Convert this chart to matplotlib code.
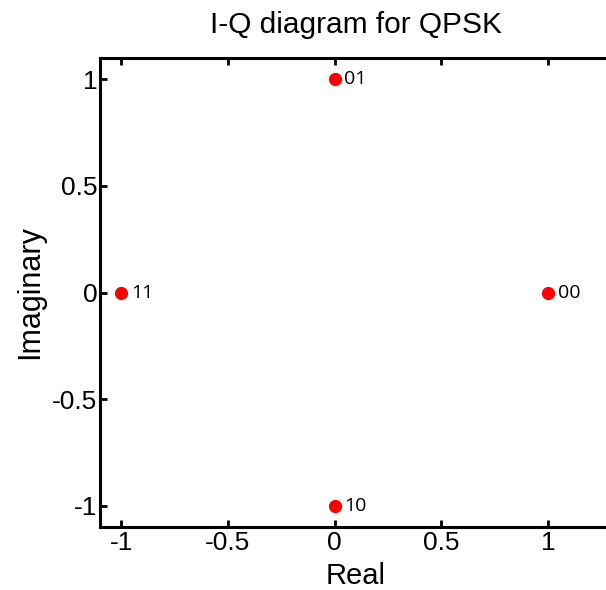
import matplotlib
matplotlib.use("Agg")
import matplotlib.pyplot as plt

real = [1, 0, -1, 0]
imag = [0, 1, 0, -1]
labels = ["00", "01", "11", "10"]
xticks = [-1, -0.5, 0, 0.5, 1]
yticks = [-1, -0.5, 0, 0.5, 1]

plt.rcParams['font.family'] = ['Liberation Sans', 'DejaVu Sans']

fig = plt.figure(figsize=(6.06, 5.90), dpi=100)
ax = fig.add_axes([100/606, 63/590, 512/606, 469/590])
ax.plot(real, imag, 'o', color='red', markersize=8.5, linestyle='none', clip_on=False)
for x, y, t in zip(real, imag, labels):
    ax.text(x + 0.045, y, t, fontsize=14, va='center', ha='left',
            family=['Open Sans', 'DejaVu Sans'])

ax.set_xlim(-1.1, 1.3)
ax.set_ylim(-1.1, 1.1)
ax.set_xticks(xticks)
ax.set_xticklabels(['-1', '-0.5', '0', '0.5', '1'])
ax.set_yticks(yticks)
ax.set_yticklabels(['-1', '-0.5', '0', '0.5', '1'])
ax.tick_params(direction='in', length=5, width=2, top=True, right=False,
               labelsize=19)
ax.tick_params(axis='y', pad=2)
ax.tick_params(axis='x', pad=3)
for s in ax.spines.values():
    s.set_linewidth(2.2)
ax.set_xlabel('Real', fontsize=21, labelpad=5)
ax.set_ylabel('Imaginary', fontsize=22, labelpad=5)
ax.set_title('I-Q diagram for QPSK', fontsize=21.5, pad=18)

fig.savefig('out.png', dpi=100)
